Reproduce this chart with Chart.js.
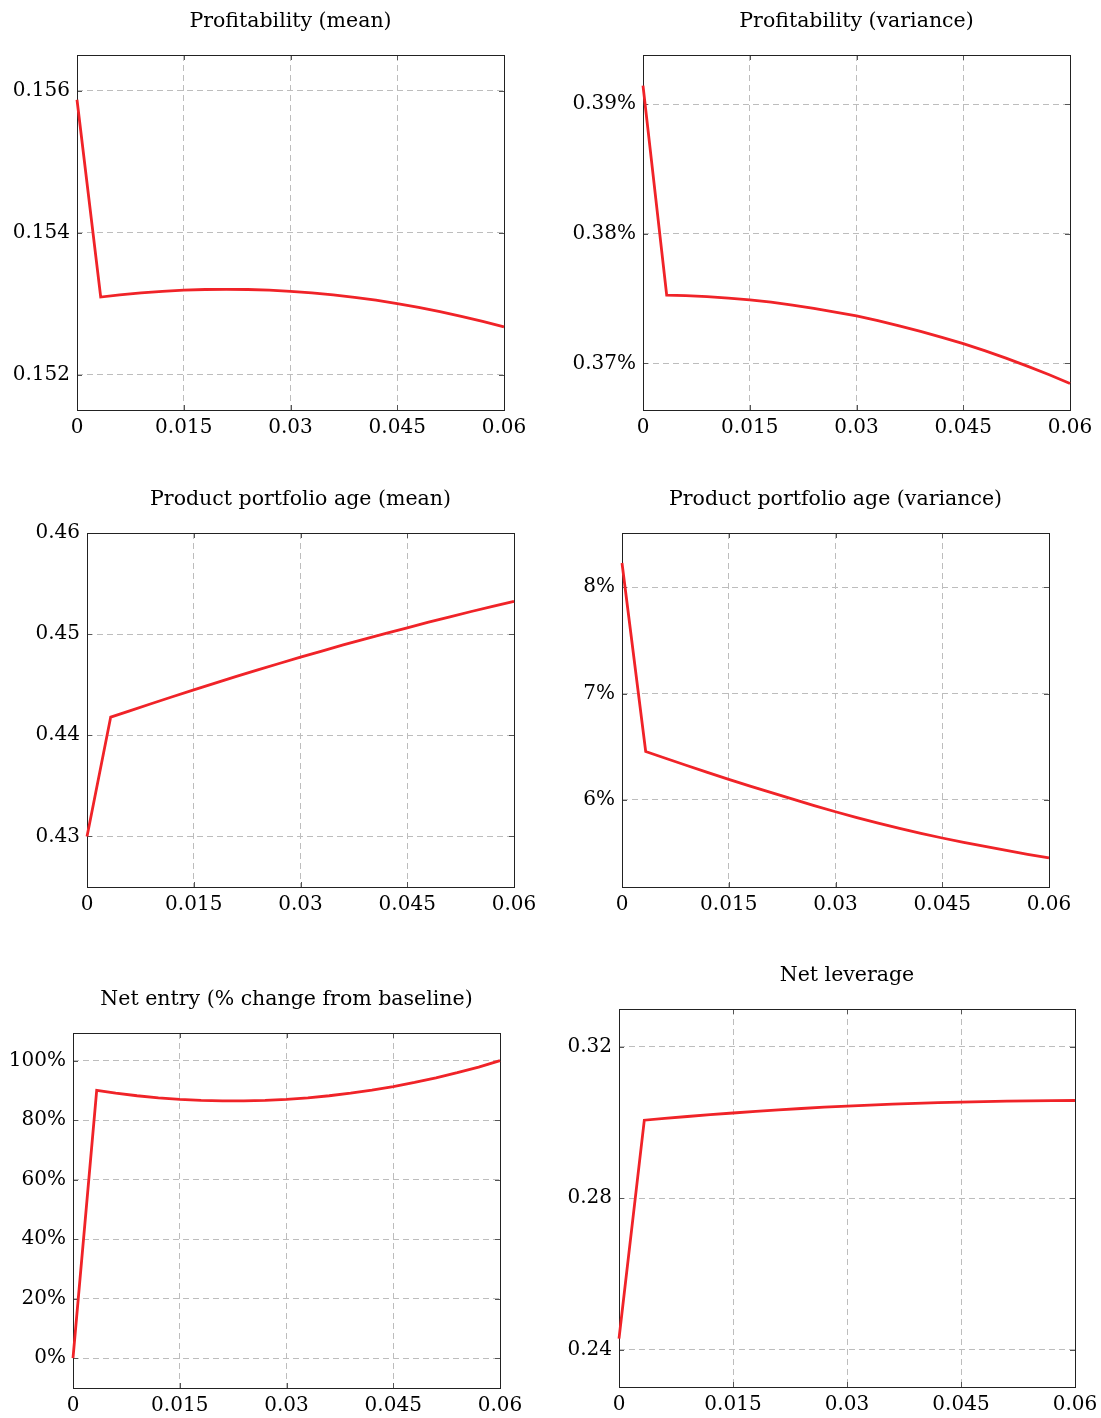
<!DOCTYPE html>
<html>
<head>
<meta charset="utf-8">
<script src="https://cdn.jsdelivr.net/npm/chart.js@4.4.1/dist/chart.umd.min.js"></script>
<style>
  html, body { margin: 0; padding: 0; background: #fff; }
  #wrap { position: relative; width: 1101px; height: 1418px; overflow: hidden; }
  #wrap canvas { position: absolute; }
</style>
</head>
<body>
<div id="wrap"></div>
<script>
// x grid shared by all six panels (kink sits near 0.0033)
const xValues = [0, 0.00333, 0.006, 0.009, 0.012, 0.015, 0.018, 0.021, 0.024, 0.027, 0.03,
                 0.033, 0.036, 0.039, 0.042, 0.045, 0.048, 0.051, 0.054, 0.057, 0.06];
const xTicks = [0, 0.015, 0.03, 0.045, 0.06];

// series
const profitMean = [0.15587, 0.153091, 0.153122, 0.153150, 0.153172, 0.153187, 0.153197, 0.153200, 0.153197, 0.153187, 0.153172,
                    0.153150, 0.153122, 0.153087, 0.153046, 0.152999, 0.152946, 0.152886, 0.152820, 0.152748, 0.152670];
const profitVar = [0.39144, 0.37527, 0.37523, 0.37515, 0.37504, 0.37490, 0.37472, 0.37450, 0.37424, 0.37396, 0.37366,
                   0.37330, 0.37290, 0.37247, 0.37201, 0.37152, 0.37098, 0.37040, 0.36979, 0.36914, 0.36845]; // in %
const ageMean = [0.4300, 0.44180, 0.44242, 0.44312, 0.44381, 0.44449, 0.44516, 0.44582, 0.44647, 0.44710, 0.44772,
                 0.44833, 0.44893, 0.44951, 0.45008, 0.45063, 0.45118, 0.45171, 0.45224, 0.45275, 0.45325];
const ageVar = [8.228, 6.455, 6.393, 6.325, 6.258, 6.193, 6.129, 6.067, 6.006, 5.946, 5.888,
                5.833, 5.781, 5.732, 5.685, 5.641, 5.600, 5.561, 5.524, 5.488, 5.454]; // in %
const netEntry = [0, 90.00, 89.07, 88.21, 87.52, 87.00, 86.66, 86.49, 86.49, 86.66, 87.00,
                  87.52, 88.21, 89.07, 90.10, 91.30, 92.68, 94.23, 95.95, 97.84, 100.0]; // in %
const netLeverage = [0.2429, 0.30061, 0.301083, 0.301588, 0.302066, 0.302516, 0.302939, 0.303335, 0.303703, 0.304044, 0.304357,
                     0.304614, 0.304846, 0.305054, 0.305237, 0.305395, 0.305528, 0.305637, 0.305721, 0.305780, 0.305814];

// y tick values per panel
const profitMeanTicks = [0.152, 0.154, 0.156];
const profitVarTicks = [0.37, 0.38, 0.39];
const ageMeanTicks = [0.43, 0.44, 0.45, 0.46];
const ageVarTicks = [6, 7, 8];
const netEntryTicks = [0, 20, 40, 60, 80, 100];
const netLeverageTicks = [0.24, 0.28, 0.32];

const titles = ['Profitability (mean)', 'Profitability (variance)',
                'Product portfolio age (mean)', 'Product portfolio age (variance)',
                'Net entry (% change from baseline)', 'Net leverage'];

const FONT = 'DejaVu Serif';
const LINE_RED = 'rgb(240,35,40)';

// plot boxes on the page + axis ranges and label formats
const panels = [
  { l: 77,  t: 55,   w: 427, h: 355, data: profitMean,  ticks: profitMeanTicks,  min: 0.1515, max: 0.1565, fmt: v => v.toFixed(3) },
  { l: 643, t: 55,   w: 427, h: 355, data: profitVar,   ticks: profitVarTicks,   min: 0.3664, max: 0.3938, fmt: v => v.toFixed(2) + '%' },
  { l: 87,  t: 533,  w: 427, h: 354, data: ageMean,     ticks: ageMeanTicks,     min: 0.425,  max: 0.46,   fmt: v => v.toFixed(2) },
  { l: 622, t: 533,  w: 427, h: 354, data: ageVar,      ticks: ageVarTicks,      min: 5.18,   max: 8.51,   fmt: v => v.toFixed(0) + '%' },
  { l: 73,  t: 1033, w: 427, h: 355, data: netEntry,    ticks: netEntryTicks,    min: -10,    max: 109.3,  fmt: v => v.toFixed(0) + '%' },
  { l: 619, t: 1009, w: 456, h: 378, data: netLeverage, ticks: netLeverageTicks, min: 0.2301, max: 0.3300, fmt: v => v.toFixed(2) }
];

const LEFT = 75, TOP = 55, RIGHT = 40, BOTTOM = 40;

// pgfplots-like frame with short inward tick marks
const framePlugin = {
  id: 'frame',
  beforeDatasetsDraw(chart) {
    const { ctx, chartArea: a, scales } = chart;
    ctx.save();
    ctx.strokeStyle = '#555';
    ctx.lineWidth = 1;
    ctx.beginPath();
    scales.y.ticks.forEach(t => {
      const py = Math.round(scales.y.getPixelForValue(t.value)) + 0.5;
      ctx.moveTo(a.left, py); ctx.lineTo(a.left + 5, py);
      ctx.moveTo(a.right - 5, py); ctx.lineTo(a.right, py);
    });
    scales.x.ticks.forEach(t => {
      const px = Math.round(scales.x.getPixelForValue(t.value)) + 0.5;
      ctx.moveTo(px, a.bottom); ctx.lineTo(px, a.bottom - 5);
      ctx.moveTo(px, a.top); ctx.lineTo(px, a.top + 5);
    });
    ctx.stroke();
    ctx.strokeStyle = '#222';
    ctx.strokeRect(Math.round(a.left) + 0.5, Math.round(a.top) + 0.5,
                   Math.round(a.right - a.left), Math.round(a.bottom - a.top));
    ctx.restore();
  }
};

const wrap = document.getElementById('wrap');

panels.forEach((p, i) => {
  const canvas = document.createElement('canvas');
  const cw = p.w + LEFT + RIGHT, ch = p.h + TOP + BOTTOM;
  canvas.width = cw; canvas.height = ch;
  canvas.style.left = (p.l - LEFT) + 'px';
  canvas.style.top = (p.t - TOP) + 'px';
  canvas.style.width = cw + 'px';
  canvas.style.height = ch + 'px';
  wrap.appendChild(canvas);

  new Chart(canvas.getContext('2d'), {
    type: 'line',
    data: {
      labels: xValues,
      datasets: [{
        data: xValues.map((x, k) => ({ x: x, y: p.data[k] })),
        borderColor: LINE_RED,
        borderWidth: 2.8,
        pointRadius: 0,
        tension: 0,
        fill: false,
        clip: 3
      }]
    },
    options: {
      responsive: false,
      animation: false,
      devicePixelRatio: 1,
      layout: { padding: { left: 0, top: 0, right: RIGHT, bottom: 0 } },
      plugins: {
        legend: { display: false },
        tooltip: { enabled: false },
        title: {
          display: true,
          text: titles[i],
          fullSize: false,
          color: '#000',
          font: { family: FONT, size: 20.5, weight: 'normal', lineHeight: 1.2 },
          padding: { top: 9.3, bottom: 21.1 }
        }
      },
      scales: {
        x: {
          type: 'linear',
          min: 0, max: 0.06,
          afterBuildTicks: s => { s.ticks = xTicks.map(v => ({ value: v })); },
          afterFit: s => { s.height = BOTTOM; },
          ticks: {
            color: '#000',
            font: { family: FONT, size: 20 },
            padding: 6,
            maxRotation: 0,
            autoSkip: false,
            callback: v => v === 0 ? '0' : String(Number(v.toFixed(3)))
          },
          grid: { color: '#bdbdbd', lineWidth: 1, drawTicks: false },
          border: { display: false, dash: [6, 4] }
        },
        y: {
          min: p.min, max: p.max,
          afterBuildTicks: s => { s.ticks = p.ticks.map(v => ({ value: v })); },
          afterFit: s => { s.width = LEFT; },
          ticks: {
            color: '#000',
            font: { family: FONT, size: 20 },
            padding: 7,
            autoSkip: false,
            callback: v => p.fmt(v)
          },
          grid: { color: '#bdbdbd', lineWidth: 1, drawTicks: false },
          border: { display: false, dash: [6, 4] }
        }
      }
    },
    plugins: [framePlugin]
  });
});
</script>
</body>
</html>
